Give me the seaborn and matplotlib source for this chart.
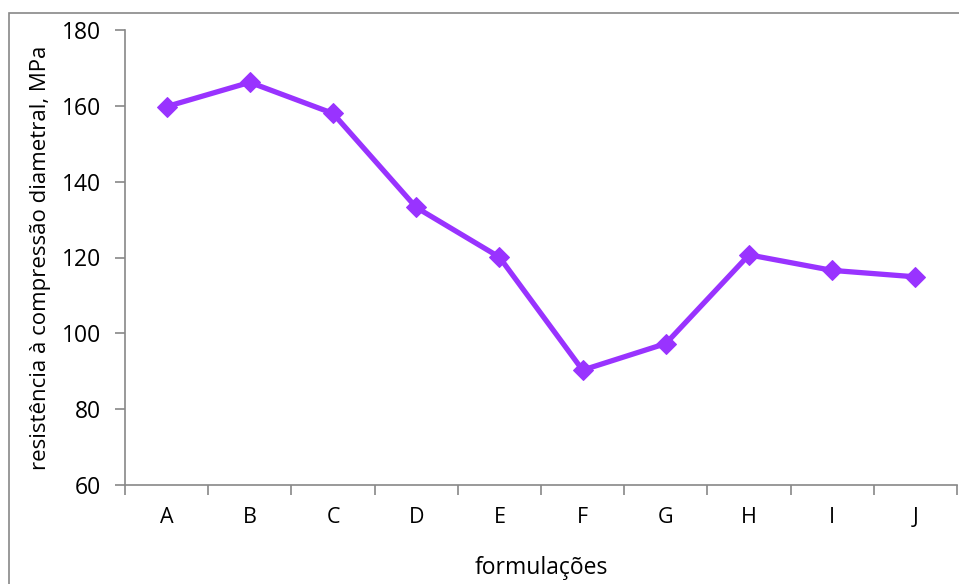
import matplotlib
matplotlib.use("Agg")
import matplotlib.pyplot as plt
import seaborn as sns
import pandas as pd
from matplotlib.patches import Rectangle
from matplotlib.ticker import FixedLocator, NullFormatter

# dados
formulacoes = ["A", "B", "C", "D", "E", "F", "G", "H", "I", "J"]
resistencia = [159.8, 166.2, 158.0, 133.2, 120.1, 90.3, 97.3, 120.7, 116.6, 114.9]

data = pd.DataFrame({"formulacao": formulacoes, "resistencia": resistencia})

sns.set_style("white")
plt.rcParams["font.family"] = ["Open Sans", "DejaVu Sans"]
plt.rcParams["text.color"] = "black"
plt.rcParams["axes.labelcolor"] = "black"
plt.rcParams["xtick.labelcolor"] = "black"
plt.rcParams["ytick.labelcolor"] = "black"

W, H = 959, 584
fig = plt.figure(figsize=(W / 100, H / 100), dpi=100)
ax = fig.add_axes([125 / W, 1 - 485 / H, (957 - 125) / W, (485 - 30) / H])

# moldura do gráfico (estilo Excel)
fig.patches.append(Rectangle((9 / W, -0.1), 1.2, 1 - 13 / H + 0.1, transform=fig.transFigure,
                             fill=False, edgecolor="#888888", linewidth=1.2))

sns.lineplot(data=data, x="formulacao", y="resistencia", ax=ax, sort=False,
             color="#9933FF", linewidth=3.8, marker="D", markersize=10.5,
             markeredgecolor="#9933FF")

ax.set_ylim(60, 180)
ax.set_yticks(range(60, 181, 20))
ax.set_xlim(-0.5, len(formulacoes) - 0.5)
ax.xaxis.set_minor_locator(FixedLocator([i - 0.5 for i in range(len(formulacoes) + 1)]))
ax.xaxis.set_minor_formatter(NullFormatter())
ax.tick_params(axis="x", which="major", length=0, pad=16, labelsize=15.5)
ax.tick_params(axis="x", which="minor", length=7, width=1.2, color="#888888", bottom=True)
ax.tick_params(axis="y", length=7, width=1.2, color="#888888", left=True, labelsize=16.5, pad=10)

for s in ["top", "right"]:
    ax.spines[s].set_visible(False)
for s in ["left", "bottom"]:
    ax.spines[s].set_color("#888888")
    ax.spines[s].set_linewidth(1.2)

ax.set_xlabel("formulações", fontsize=16.5, labelpad=20)
ax.set_ylabel("resistência à compressão diametral, MPa", fontsize=16, labelpad=8)

fig.savefig("out.png", dpi=100)
